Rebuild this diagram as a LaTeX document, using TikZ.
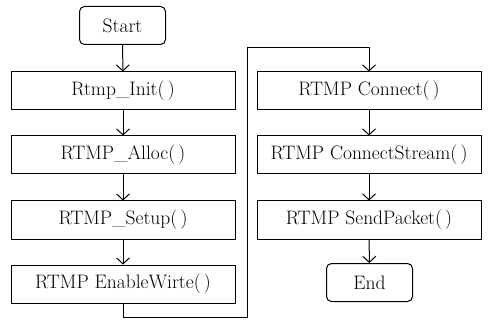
\documentclass[tikz,border=0pt]{standalone}
\usepackage{tikz}
\usetikzlibrary{positioning,arrows.meta}

\begin{document}
\begin{tikzpicture}[x=1pt, y=-1pt,
  stepbox/.style={draw, line width=1pt, minimum width=224pt, minimum height=38pt, inner sep=0pt, font=\fontsize{19.5}{23}\selectfont},
  term/.style={stepbox, rounded corners=5pt, minimum width=86pt},
  flow/.style={line width=1pt, -{Straight Barb[length=6pt, width=13pt, line width=1pt]}}]
\useasboundingbox (0,0) rectangle (489,320);
\node[term] (start) at (122.5,25.5) {Start};
\node[stepbox] (init) at (123,91) {Rtmp\_Init(\,)};
\node[stepbox] (alloc) at (123,155) {RTMP\_Alloc(\,)};
\node[stepbox] (setup) at (123,220) {RTMP\_Setup(\,)};
\node[stepbox] (enable) at (123,284) {RTMP EnableWirte(\,)};
\node[stepbox] (connect) at (369,91) {RTMP Connect(\,)};
\node[stepbox] (cstream) at (369,155) {RTMP ConnectStream(\,)};
\node[stepbox] (send) at (369,220) {RTMP SendPacket(\,)};
\node[term] (fin) at (369.5,282.5) {End};
\coordinate (low) at (247,317);
\coordinate (high) at (247,48);
\draw[flow] (start) -- (init);
\draw[flow] (init) -- (alloc);
\draw[flow] (alloc) -- (setup);
\draw[flow] (setup) -- (enable);
\draw[flow] (enable.south) |- (low) -- (high) -| (connect.north);
\draw[flow] (connect) -- (cstream);
\draw[flow] (cstream) -- (send);
\draw[flow] (send) -- (fin);
\end{tikzpicture}
\end{document}
